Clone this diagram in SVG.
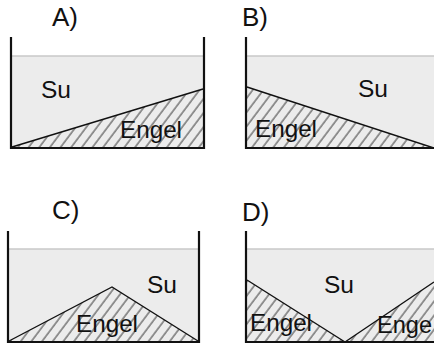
<svg xmlns="http://www.w3.org/2000/svg" width="434" height="347" viewBox="0 0 434 347">
<defs>
<pattern id="hatch" patternUnits="userSpaceOnUse" width="8.5" height="10" patternTransform="rotate(37)">
<line x1="1" y1="0" x2="1" y2="10" stroke="#222" stroke-width="0.9"/>
</pattern>
<style>
.water{fill:#ececec;stroke:none}
.wline{stroke:#c8c8c8;stroke-width:1.5;fill:none}
.wall{stroke:#111;stroke-width:2.2;fill:none;stroke-linecap:square}
.slope{stroke:#111;stroke-width:1.4;fill:none}
.sand{fill:url(#hatch);stroke:none}
.lab{font-family:"Liberation Sans",Arial,sans-serif;font-size:26px;fill:#111}
.txt{font-family:"Liberation Sans",Arial,sans-serif;font-size:24px;fill:#111}
</style>
</defs>
<rect width="434" height="347" fill="#fff"/>
<g id="panelA">
<rect class="water" x="11" y="56" width="193" height="92"/>
<polygon class="sand" points="12,147 203,89 203,147"/>
<line class="wline" x1="12" y1="56" x2="203" y2="56"/>
<line class="slope" x1="12" y1="147" x2="203" y2="89"/>
<polyline class="wall" points="11,38 11,148 204,148 204,38"/>
<text class="lab" x="52" y="26">A)</text>
<text class="txt" x="41" y="98" textLength="30" lengthAdjust="spacingAndGlyphs">Su</text>
<text class="txt" x="120" y="138" textLength="62" lengthAdjust="spacingAndGlyphs">Engel</text>
</g>
<g id="panelB">
<rect class="water" x="246" y="56" width="188" height="92"/>
<polygon class="sand" points="247,87 434,148 247,148"/>
<line class="wline" x1="247" y1="56" x2="434" y2="56"/>
<line class="slope" x1="247" y1="87" x2="434" y2="148"/>
<polyline class="wall" points="246,38 246,148 434,148"/>
<text class="lab" x="242" y="26">B)</text>
<text class="txt" x="358" y="97" textLength="30" lengthAdjust="spacingAndGlyphs">Su</text>
<text class="txt" x="255" y="137" textLength="62" lengthAdjust="spacingAndGlyphs">Engel</text>
</g>
<g id="panelC">
<rect class="water" x="8" y="249" width="191" height="93"/>
<polygon class="sand" points="9,341 112,287 198,341"/>
<line class="wline" x1="9" y1="249" x2="198" y2="249"/>
<polyline class="slope" points="9,341 112,287 198,341"/>
<polyline class="wall" points="8,232 8,342 199,342 199,232"/>
<text class="lab" x="52" y="219">C)</text>
<text class="txt" x="147" y="293" textLength="30" lengthAdjust="spacingAndGlyphs">Su</text>
<text class="txt" x="76" y="332" textLength="62" lengthAdjust="spacingAndGlyphs">Engel</text>
</g>
<g id="panelD">
<rect class="water" x="246" y="249" width="188" height="93"/>
<polygon class="sand" points="247,280 345,342 247,342"/>
<polygon class="sand" points="345,342 434,282 434,342"/>
<line class="wline" x1="247" y1="249" x2="434" y2="249"/>
<polyline class="slope" points="247,280 345,342 434,282"/>
<polyline class="wall" points="246,232 246,342 434,342"/>
<text class="lab" x="242" y="221">D)</text>
<text class="txt" x="324" y="293" textLength="30" lengthAdjust="spacingAndGlyphs">Su</text>
<text class="txt" x="250" y="331" textLength="62" lengthAdjust="spacingAndGlyphs">Engel</text>
<text class="txt" x="377" y="333" textLength="55" lengthAdjust="spacingAndGlyphs">Enge</text>
</g>
</svg>
